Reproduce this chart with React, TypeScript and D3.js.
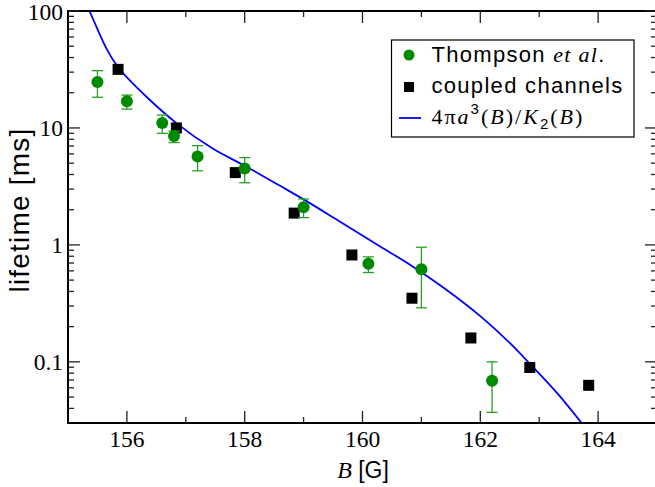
import React from "react";
import * as d3 from "d3";

// ---- data ----
const thompsonB = [155.5, 156.0, 156.6, 156.8, 157.2, 158.0, 159.0, 160.1, 161.0, 162.2];
const thompsonVal = [24.7, 16.9, 11.0, 8.55, 5.7, 4.5, 2.1, 0.69, 0.62, 0.069];
const thompsonLo = [18.3, 14.5, 9.0, 7.5, 4.3, 3.4, 1.71, 0.58, 0.29, 0.037];
const thompsonHi = [30.9, 19.1, 12.9, 9.4, 7.06, 5.58, 2.47, 0.79, 0.955, 0.1];

const coupledB = [155.85, 156.84, 157.84, 158.84, 159.82, 160.84, 161.84, 162.84, 163.84];
const coupledVal = [31.7, 10.0, 4.15, 1.87, 0.82, 0.35, 0.16, 0.0895, 0.063];

const curveB = [155.365, 155.5, 155.66, 155.85, 156.05, 156.34, 156.84, 157.47, 158.0, 158.6, 159.0, 159.6, 160.3, 160.8, 161.4, 162.0, 162.5, 162.84, 163.32, 163.72];
const curveVal = [100, 70, 47, 33, 25.5, 18.3, 11, 6.6, 4.75, 3.2, 2.45, 1.6, 0.97, 0.68, 0.422, 0.246, 0.145, 0.0965, 0.053, 0.03];

const xMajorTicks = [156, 158, 160, 162, 164];
const xMinorTicks = [157, 159, 161, 163];
const yMajorTicks = [0.1, 1, 10, 100];
const yMajorLabels = ["0.1", "1", "10", "100"];
const yMinorTicks = [0.04, 0.05, 0.06, 0.07, 0.08, 0.09, 0.2, 0.3, 0.4, 0.5, 0.6, 0.7, 0.8, 0.9, 2, 3, 4, 5, 6, 7, 8, 9, 20, 30, 40, 50, 60, 70, 80, 90];

const GREEN = "#008a00";
const ERR_GREEN = "#26a026";
const BLUE = "#0000ff";

export default function App() {
  const L = 68, R = 657, T = 11, Bt = 423;
  const x = d3.scaleLinear().domain([155, 165]).range([L, R]);
  const y = d3.scaleLog().domain([0.03, 100]).range([Bt, T]);

  const curvePts = curveB.map((b, i) => [b, curveVal[i]] as [number, number]);
  const line = d3
    .line<[number, number]>()
    .x((d) => x(d[0]))
    .y((d) => y(d[1]))
    .curve(d3.curveMonotoneX);

  const serif = "'Liberation Serif', 'Times New Roman', serif";
  const sans = "'Liberation Sans', Arial, sans-serif";
  const major = 12, minor = 6;

  return (
    <svg
      width={655}
      height={487}
      style={{ position: "absolute", left: 0, top: 0, background: "#fff" }}
    >
      <defs>
        <clipPath id="plotclip">
          <rect x={L} y={T} width={R - L} height={Bt - T} />
        </clipPath>
      </defs>
      <rect x={0} y={0} width={655} height={487} fill="#fff" />

      {/* curve */}
      <path d={line(curvePts) || ""} fill="none" stroke={BLUE} strokeWidth={1.8} clipPath="url(#plotclip)" />

      {/* coupled channels squares */}
      {coupledB.map((b, i) => (
        <rect key={"s" + i} x={x(b) - 5.5} y={y(coupledVal[i]) - 5.5} width={11} height={11} fill="#000" />
      ))}

      {/* Thompson error bars */}
      {thompsonB.map((b, i) => (
        <g key={"e" + i} stroke={ERR_GREEN} strokeWidth={1.3}>
          <line x1={x(b)} x2={x(b)} y1={y(thompsonLo[i])} y2={y(thompsonHi[i])} />
          <line x1={x(b) - 5.5} x2={x(b) + 5.5} y1={y(thompsonLo[i])} y2={y(thompsonLo[i])} />
          <line x1={x(b) - 5.5} x2={x(b) + 5.5} y1={y(thompsonHi[i])} y2={y(thompsonHi[i])} />
        </g>
      ))}
      {thompsonB.map((b, i) => (
        <circle key={"c" + i} cx={x(b)} cy={y(thompsonVal[i])} r={6} fill={GREEN} />
      ))}

      {/* frame */}
      <rect x={L} y={T} width={R - L} height={Bt - T} fill="none" stroke="#000" strokeWidth={2} />

      {/* x ticks */}
      {xMajorTicks.map((t) => (
        <g key={"xm" + t} stroke="#222" strokeWidth={1.3}>
          <line x1={x(t)} x2={x(t)} y1={Bt} y2={Bt - major} />
          <line x1={x(t)} x2={x(t)} y1={T} y2={T + major} />
        </g>
      ))}
      {xMinorTicks.map((t) => (
        <g key={"xn" + t} stroke="#222" strokeWidth={1.3}>
          <line x1={x(t)} x2={x(t)} y1={Bt} y2={Bt - minor} />
          <line x1={x(t)} x2={x(t)} y1={T} y2={T + minor} />
        </g>
      ))}
      {/* y ticks */}
      {yMajorTicks.map((t) => (
        <g key={"ym" + t} stroke="#222" strokeWidth={1.3}>
          <line x1={L} x2={L + major} y1={y(t)} y2={y(t)} />
          <line x1={R} x2={R - major} y1={y(t)} y2={y(t)} />
        </g>
      ))}
      {yMinorTicks.map((t) => (
        <g key={"yn" + t} stroke="#222" strokeWidth={1.3}>
          <line x1={L} x2={L + minor} y1={y(t)} y2={y(t)} />
          <line x1={R} x2={R - minor} y1={y(t)} y2={y(t)} />
        </g>
      ))}

      {/* tick labels */}
      {xMajorTicks.map((t) => (
        <text key={"xl" + t} x={x(t)} y={446.5} textAnchor="middle" fontFamily={serif} fontSize={23.5}>
          {String(t)}
        </text>
      ))}
      {yMajorTicks.map((t, i) => (
        <text key={"yl" + t} x={63} y={y(t) + 8.5} textAnchor="end" fontFamily={serif} fontSize={23.5}>
          {yMajorLabels[i]}
        </text>
      ))}

      {/* axis labels */}
      <text x={363} y={478} textAnchor="middle" fontSize={23}>
        <tspan fontFamily={serif} fontStyle="italic" fontSize={24}>B</tspan>
        <tspan fontFamily={sans}> [G]</tspan>
      </text>
      <text
        transform="translate(29,210) rotate(-90)"
        textAnchor="middle"
        fontFamily={sans}
        fontSize={28}
        letterSpacing={1.2}
      >
        lifetime [ms]
      </text>

      {/* legend */}
      <rect x={391.5} y={40} width={242.5} height={97} fill="#fff" stroke="#000" strokeWidth={1.2} />
      <circle cx={409} cy={55} r={5.5} fill={GREEN} />
      <rect x={404} y={82} width={10} height={10} fill="#000" />
      <line x1={399} x2={421} y1={118} y2={118} stroke={BLUE} strokeWidth={1.8} />
      <text x={431.5} y={61.5} fontFamily={sans} fontSize={22} letterSpacing={1.3}>
        Thompson <tspan fontFamily={serif} fontStyle="italic">et al</tspan>.
      </text>
      <text x={431.5} y={93} fontFamily={sans} fontSize={22} letterSpacing={1.3}>
        coupled channels
      </text>
      <text x={431.5} y={123.5} fontFamily={serif} fontSize={22} letterSpacing={2}>
        4π<tspan fontStyle="italic">a</tspan>
        <tspan fontFamily={sans} fontSize={15} dy={-10}>3</tspan>
        <tspan dy={10}>(</tspan>
        <tspan fontStyle="italic">B</tspan>)/<tspan fontStyle="italic">K</tspan>
        <tspan fontFamily={sans} fontSize={15} dy={5}>2</tspan>
        <tspan dy={-5}>(</tspan>
        <tspan fontStyle="italic">B</tspan>)
      </text>
    </svg>
  );
}
